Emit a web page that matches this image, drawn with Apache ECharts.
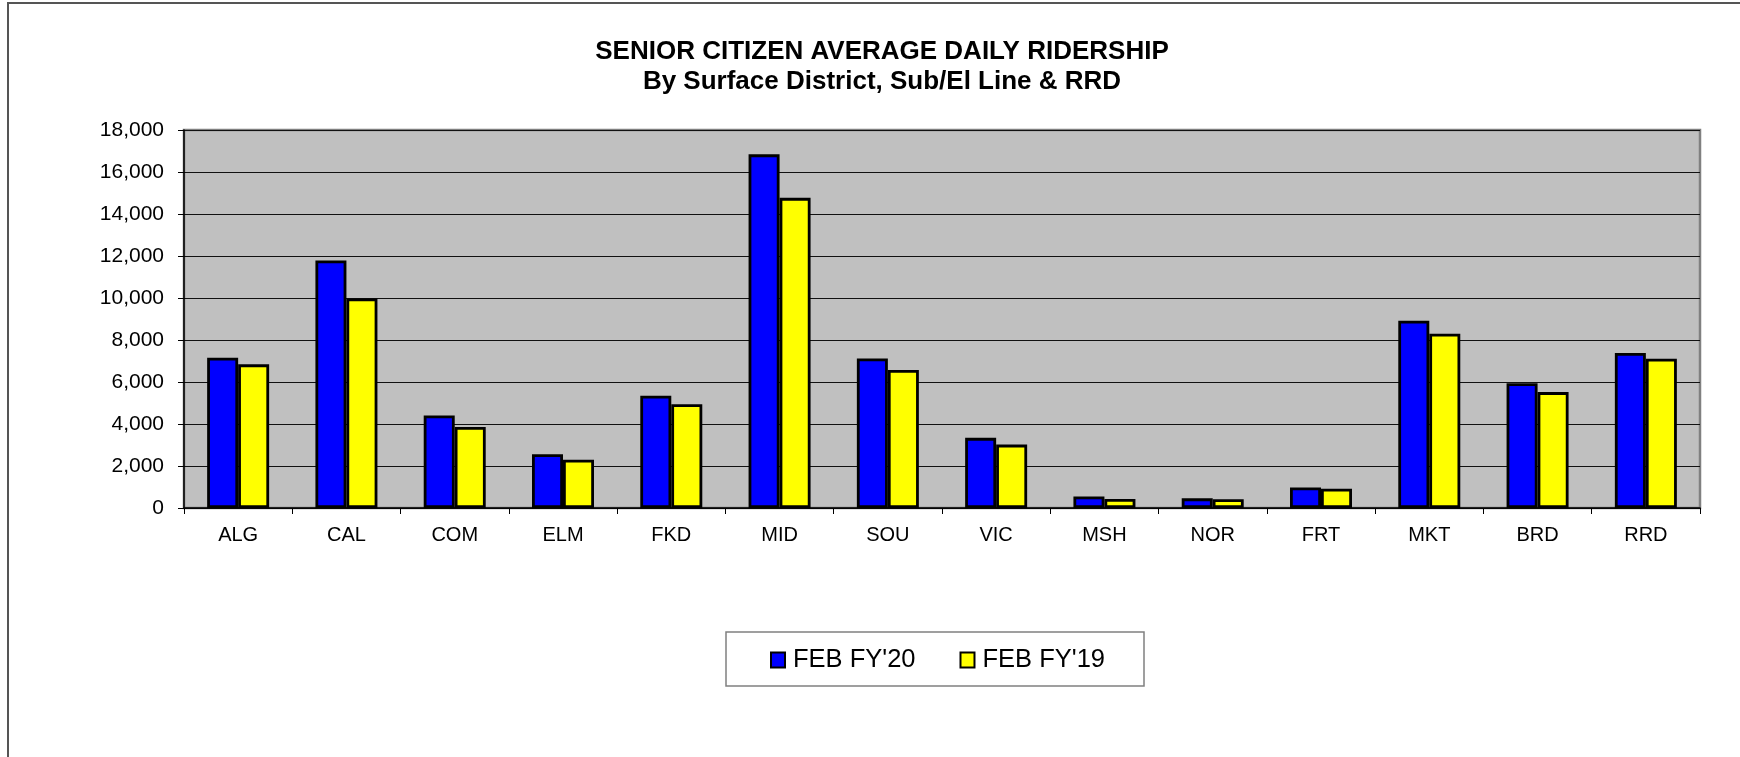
<!DOCTYPE html>
<html>
<head>
<meta charset="utf-8">
<title>Senior Citizen Average Daily Ridership</title>
<script src="https://cdn.jsdelivr.net/npm/echarts@6/dist/echarts.min.js"></script>
<style>
  html, body { margin: 0; padding: 0; background: #fff; }
  #chart { width: 1740px; height: 757px; }
</style>
</head>
<body>
<div id="chart"></div>
<script>
// districts / lines
var categories = ['ALG', 'CAL', 'COM', 'ELM', 'FKD', 'MID', 'SOU', 'VIC', 'MSH', 'NOR', 'FRT', 'MKT', 'BRD', 'RRD'];
var seriesNames = ["FEB FY'20", "FEB FY'19"];
var feb20 = [7160, 11790, 4410, 2560, 5350, 16840, 7120, 3340, 550, 460, 980, 8920, 5940, 7380];
var feb19 = [6840, 9980, 3860, 2300, 4940, 14770, 6570, 3020, 430, 420, 920, 8300, 5520, 7110];
var yTicks = [0, 2000, 4000, 6000, 8000, 10000, 12000, 14000, 16000, 18000];

var font = "'Liberation Sans', Arial, sans-serif";

var chart = echarts.init(document.getElementById('chart'));

chart.setOption({
  animation: false,
  backgroundColor: '#ffffff',
  textStyle: { fontFamily: font },
  title: {
    text: 'SENIOR CITIZEN AVERAGE DAILY RIDERSHIP\nBy Surface District, Sub/El Line & RRD',
    left: 882,
    top: 37,
    padding: 0,
    textAlign: 'center',
    textStyle: {
      fontFamily: font,
      fontSize: 26,
      fontWeight: 'bold',
      lineHeight: 30,
      color: '#000'
    }
  },
  // outer frame and legend box
  graphic: [
    {
      type: 'rect',
      shape: { x: 8, y: 3, width: 1800, height: 900 },
      style: { fill: 'none', stroke: '#555555', lineWidth: 2 },
      silent: true
    },
    {
      type: 'rect',
      shape: { x: 726, y: 632, width: 418, height: 54 },
      style: { fill: '#ffffff', stroke: '#808080', lineWidth: 1.5 },
      silent: true,
      z: -1
    }
  ],
  legend: {
    left: 770,
    top: 647,
    padding: 0,
    itemWidth: 14,
    itemHeight: 15,
    itemGap: 44,
    icon: 'rect',
    textStyle: { fontFamily: font, fontSize: 25.5, color: '#000', padding: [0, 0, 0, 3] },
    data: seriesNames
  },
  grid: {
    left: 184,
    top: 130,
    width: 1516,
    height: 378,
    show: true,
    backgroundColor: '#c0c0c0',
    borderColor: '#808080',
    borderWidth: 2.5
  },
  xAxis: {
    type: 'category',
    data: categories,
    axisLine: { lineStyle: { color: '#000', width: 1.5 } },
    axisTick: { show: true, length: 6, lineStyle: { color: '#000' } },
    axisLabel: { fontFamily: font, fontSize: 20, color: '#000', margin: 17 }
  },
  yAxis: {
    type: 'value',
    min: yTicks[0],
    max: yTicks[yTicks.length - 1],
    interval: 2000,
    axisLine: { show: true, lineStyle: { color: '#000', width: 1.5 } },
    axisTick: { show: true, length: 6, lineStyle: { color: '#000' } },
    axisLabel: {
      fontFamily: font,
      fontSize: 21,
      color: '#000',
      margin: 20,
      formatter: function (v) { return v.toLocaleString('en-US'); }
    },
    splitLine: { show: true, lineStyle: { color: '#111', width: 1 } }
  },
  series: [
    {
      name: seriesNames[0],
      type: 'bar',
      data: feb20,
      barWidth: 31,
      barGap: '0%',
      itemStyle: { color: '#0000ff', borderColor: '#000', borderWidth: 2.8 }
    },
    {
      name: seriesNames[1],
      type: 'bar',
      data: feb19,
      barWidth: 31,
      itemStyle: { color: '#ffff00', borderColor: '#000', borderWidth: 2.8 }
    }
  ]
});
</script>
</body>
</html>
